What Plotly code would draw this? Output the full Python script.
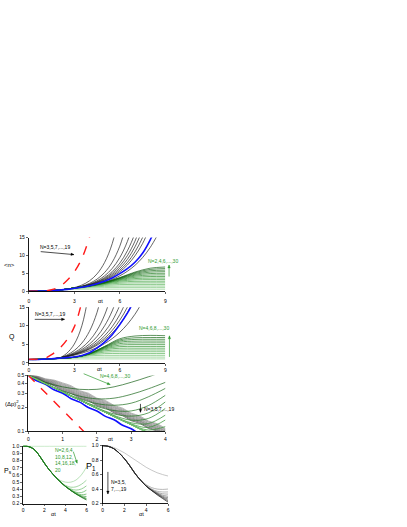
import math
import plotly.graph_objects as go

W, H = 407, 527
FONT = "Liberation Sans, Arial, sans-serif"

# ---------------- time grids ----------------
T_HALF = [0, 0.5, 1, 1.5, 2, 2.5, 3, 3.5, 4, 4.5, 5, 5.5, 6, 6.5, 7, 7.5, 8, 8.5, 9]
T_INT = [0, 1, 2, 3, 4, 5, 6, 7, 8, 9]
T_QUART = [0, 0.25, 0.5, 0.75, 1, 1.25, 1.5, 1.75, 2, 2.25, 2.5, 2.75, 3, 3.25, 3.5, 3.75, 4]
T_P = [0, 0.5, 1, 1.5, 2, 2.5, 3, 3.5, 4, 4.5, 5, 5.5, 6]

# ---------------- panel 1 : <n> ----------------
n_black = [
    [0, 0.014, 0.06, 0.15, 0.30, 0.56, 1.0, 1.71, 2.89, 4.84, 8.05, 13.3, 22.1],
    [0, 0.02, 0.07, 0.16, 0.31, 0.56, 0.9, 1.40, 2.17, 3.37, 5.23, 8.1, 12.6, 19.6],
    [0, 0.02, 0.07, 0.16, 0.31, 0.56, 0.9, 1.33, 1.97, 2.91, 4.30, 6.36, 9.4, 13.9, 20.5],
    [0, 0.02, 0.07, 0.16, 0.31, 0.56, 0.9, 1.29, 1.85, 2.66, 3.81, 5.47, 7.85, 11.3, 16.2, 23.2],
    [0, 0.02, 0.07, 0.16, 0.31, 0.56, 0.9, 1.27, 1.79, 2.52, 3.56, 5.01, 7.07, 9.96, 14.0, 19.8],
    [0, 0.02, 0.07, 0.16, 0.31, 0.56, 0.9, 1.25, 1.73, 2.40, 3.33, 4.63, 6.42, 8.9, 12.4, 17.1],
    [0, 0.02, 0.07, 0.16, 0.31, 0.56, 0.9, 1.23, 1.68, 2.30, 3.15, 4.30, 5.89, 8.0, 11.0, 15.0, 20.6],
    [0, 0.02, 0.07, 0.16, 0.31, 0.56, 0.9, 1.21, 1.64, 2.21, 2.98, 4.02, 5.43, 7.32, 9.9, 13.3, 18.0],
    [0, 0.02, 0.07, 0.16, 0.31, 0.56, 0.9, 1.17, 1.52, 1.97, 2.55, 3.31, 4.30, 5.58, 7.23, 9.39, 12.2, 15.8],
]
n_green = [
    [0, 0.07, 0.28, 0.51, 0.546, 0.55, 0.55, 0.55, 0.55, 0.55],
    [0, 0.07, 0.30, 0.72, 0.91, 0.99, 1.0, 1.0, 1.0, 1.0],
    [0, 0.07, 0.305, 0.80, 1.13, 1.36, 1.43, 1.44, 1.44, 1.44],
    [0, 0.07, 0.31, 0.84, 1.26, 1.65, 1.85, 1.89, 1.89, 1.89],
    [0, 0.07, 0.31, 0.86, 1.34, 1.86, 2.22, 2.32, 2.33, 2.33],
    [0, 0.07, 0.31, 0.87, 1.38, 2.01, 2.54, 2.75, 2.78, 2.78],
    [0, 0.07, 0.31, 0.88, 1.42, 2.13, 2.81, 3.16, 3.23, 3.23],
    [0, 0.07, 0.31, 0.88, 1.44, 2.21, 3.03, 3.53, 3.66, 3.67],
    [0, 0.07, 0.31, 0.89, 1.45, 2.27, 3.21, 3.88, 4.10, 4.12],
    [0, 0.07, 0.31, 0.89, 1.47, 2.31, 3.36, 4.20, 4.52, 4.56],
    [0, 0.07, 0.31, 0.89, 1.47, 2.35, 3.48, 4.48, 4.93, 5.01],
    [0, 0.07, 0.31, 0.90, 1.48, 2.38, 3.59, 4.73, 5.33, 5.46],
    [0, 0.07, 0.31, 0.90, 1.49, 2.40, 3.67, 4.96, 5.71, 5.89],
    [0, 0.07, 0.31, 0.90, 1.49, 2.42, 3.74, 5.17, 6.08, 6.33],
    [0, 0.07, 0.31, 0.90, 1.50, 2.44, 3.81, 5.35, 6.43, 6.77],
]
n_blue = [0, 0.02, 0.07, 0.16, 0.31, 0.5, 0.8, 1.1, 1.5, 2.1, 2.8, 3.7, 4.9, 6.3, 8.1, 10.6, 14.3, 19.0]
n_red = [0, 0.02, 0.08, 0.4, 1.2, 2.9, 5.4, 9.2, 15.1, 23.0]

# ---------------- panel 2 : Q ----------------
q_black = [
    [0.9, 0.9, 1.0, 1.1, 1.3, 2.57, 5.06, 10.0, 19.7],
    [0.9, 0.9, 1.0, 1.1, 1.3, 2.08, 3.33, 5.33, 8.5, 13.6, 21.8],
    [0.9, 0.9, 1.0, 1.1, 1.3, 1.9, 2.79, 4.09, 5.99, 8.78, 12.9, 18.9],
    [0.9, 0.9, 1.0, 1.1, 1.3, 1.82, 2.57, 3.6, 5.06, 7.1, 10.0, 14.0, 19.7],
    [0.9, 0.9, 1.0, 1.1, 1.3, 1.77, 2.41, 3.29, 4.48, 6.11, 8.33, 11.3, 15.5, 21.1],
    [0.9, 0.9, 1.0, 1.1, 1.3, 1.73, 2.31, 3.08, 4.11, 5.49, 7.32, 9.76, 13.0, 17.4],
    [0.9, 0.9, 1.0, 1.1, 1.3, 1.71, 2.24, 2.94, 3.86, 5.07, 6.65, 8.73, 11.5, 15.0, 19.7],
    [0.9, 0.9, 1.0, 1.1, 1.3, 1.69, 2.19, 2.84, 3.68, 4.77, 6.19, 8.02, 10.4, 13.5, 17.5],
    [0.9, 0.9, 1.0, 1.1, 1.3, 1.64, 2.06, 2.6, 3.27, 4.12, 5.19, 6.54, 8.24, 10.4, 13.1, 16.5],
]
q_green = [
    [0.9, 0.99, 1.06, 1.07, 1.07, 1.07, 1.07, 1.07, 1.07, 1.07],
    [0.9, 1.0, 1.18, 1.37, 1.54, 1.55, 1.55, 1.55, 1.55, 1.55],
    [0.9, 1.0, 1.19, 1.45, 1.90, 2.03, 2.03, 2.03, 2.03, 2.03],
    [0.9, 1.0, 1.20, 1.47, 2.12, 2.49, 2.51, 2.51, 2.51, 2.51],
    [0.9, 1.0, 1.20, 1.48, 2.25, 2.90, 2.99, 2.99, 2.99, 2.99],
    [0.9, 1.0, 1.20, 1.49, 2.32, 3.25, 3.46, 3.47, 3.47, 3.47],
    [0.9, 1.0, 1.20, 1.49, 2.37, 3.54, 3.93, 3.95, 3.95, 3.95],
    [0.9, 1.0, 1.20, 1.49, 2.40, 3.77, 4.37, 4.43, 4.43, 4.43],
    [0.9, 1.0, 1.20, 1.49, 2.42, 3.95, 4.79, 4.91, 4.91, 4.91],
    [0.9, 1.0, 1.20, 1.49, 2.44, 4.10, 5.19, 5.38, 5.39, 5.39],
    [0.9, 1.0, 1.20, 1.49, 2.45, 4.21, 5.56, 5.85, 5.87, 5.87],
    [0.9, 1.0, 1.20, 1.49, 2.46, 4.31, 5.89, 6.31, 6.35, 6.35],
    [0.9, 1.0, 1.20, 1.49, 2.47, 4.39, 6.19, 6.75, 6.82, 6.83],
    [0.9, 1.0, 1.20, 1.49, 2.48, 4.45, 6.49, 7.23, 7.40, 7.32],
]
q_blue = [0.9, 0.9, 1.0, 1.1, 1.25, 1.4, 1.6, 2.0, 2.7, 4.0, 5.6, 7.6, 10.3, 13.4, 17.2]
q_red = [1.0, 1.0, 1.15, 2.2, 3.8, 6.1, 9.7, 16.5, 27.0]

# ---------------- panel 3 : (Δp)^2 ----------------
dp_black = [
    [0.5, 0.464, 0.405, 0.371, 0.325, 0.299, 0.26, 0.242, 0.21, 0.196, 0.17, 0.157, 0.136, 0.126, 0.109, 0.101, 0.088],
    [0.5, 0.467, 0.411, 0.379, 0.335, 0.308, 0.268, 0.249, 0.216, 0.202, 0.175, 0.162, 0.140, 0.130, 0.112, 0.104, 0.091],
    [0.5, 0.471, 0.417, 0.388, 0.345, 0.317, 0.276, 0.257, 0.223, 0.208, 0.180, 0.166, 0.144, 0.134, 0.116, 0.107, 0.093],
    [0.5, 0.474, 0.423, 0.396, 0.354, 0.326, 0.283, 0.264, 0.229, 0.214, 0.185, 0.171, 0.148, 0.137, 0.119, 0.110, 0.096],
    [0.5, 0.478, 0.429, 0.404, 0.364, 0.335, 0.291, 0.271, 0.235, 0.220, 0.190, 0.176, 0.152, 0.141, 0.122, 0.113, 0.099],
    [0.5, 0.481, 0.435, 0.413, 0.374, 0.344, 0.299, 0.278, 0.242, 0.225, 0.196, 0.181, 0.156, 0.145, 0.125, 0.116, 0.101],
    [0.5, 0.485, 0.441, 0.421, 0.384, 0.353, 0.307, 0.286, 0.248, 0.231, 0.201, 0.185, 0.160, 0.149, 0.129, 0.119, 0.104],
    [0.5, 0.488, 0.448, 0.429, 0.393, 0.362, 0.315, 0.293, 0.254, 0.237, 0.206, 0.190, 0.165, 0.152, 0.132, 0.122, 0.106],
    [0.5, 0.492, 0.454, 0.437, 0.403, 0.371, 0.322, 0.300, 0.260, 0.243, 0.211, 0.195, 0.169, 0.156, 0.135, 0.125, 0.109],
]
dp_green = [
    [0.5, 0.41, 0.36, 0.335, 0.335, 0.36, 0.41, 0.48, 0.57],
    [0.5, 0.395, 0.32, 0.275, 0.255, 0.26, 0.29, 0.34, 0.41],
    [0.5, 0.395, 0.312, 0.255, 0.222, 0.212, 0.225, 0.27, 0.345],
    [0.5, 0.395, 0.311, 0.247, 0.205, 0.182, 0.18, 0.21, 0.283],
    [0.5, 0.395, 0.311, 0.246, 0.197, 0.165, 0.155, 0.17, 0.234],
    [0.5, 0.395, 0.311, 0.246, 0.195, 0.158, 0.138, 0.145, 0.194],
    [0.5, 0.395, 0.311, 0.246, 0.194, 0.155, 0.128, 0.125, 0.16],
    [0.5, 0.395, 0.311, 0.246, 0.194, 0.154, 0.124, 0.112, 0.139],
    [0.5, 0.395, 0.311, 0.246, 0.194, 0.153, 0.122, 0.104, 0.115],
    [0.5, 0.395, 0.311, 0.246, 0.194, 0.153, 0.121, 0.099, 0.1],
    [0.5, 0.395, 0.311, 0.246, 0.194, 0.153, 0.121, 0.097, 0.088],
    [0.5, 0.395, 0.311, 0.246, 0.194, 0.153, 0.121, 0.096, 0.082],
    [0.5, 0.395, 0.311, 0.246, 0.194, 0.153, 0.121, 0.0955, 0.078],
    [0.5, 0.395, 0.311, 0.246, 0.194, 0.153, 0.121, 0.0955, 0.075],
]
dp_blue = [0.5, 0.427, 0.387, 0.331, 0.30, 0.256, 0.232, 0.199, 0.18, 0.154, 0.14, 0.119, 0.108, 0.092, 0.084]
dp_red = [0.5, 0.303, 0.184, 0.112, 0.068]

# ---------------- panel 4 : P_s ----------------
ps_green = [
    [1, 1, 1, 1, 1, 1, 1, 1, 1, 1, 1, 1, 1],
    [1.0, 0.995, 0.96, 0.875, 0.765, 0.665, 0.58, 0.525, 0.5, 0.5, 0.53, 0.6, 0.715],
    [1.0, 0.995, 0.96, 0.875, 0.765, 0.665, 0.58, 0.505, 0.455, 0.43, 0.435, 0.47, 0.53],
    [1.0, 0.995, 0.96, 0.875, 0.765, 0.665, 0.58, 0.505, 0.445, 0.405, 0.39, 0.405, 0.45],
    [1.0, 0.995, 0.96, 0.875, 0.765, 0.665, 0.58, 0.505, 0.44, 0.395, 0.36, 0.355, 0.39],
    [1.0, 0.995, 0.96, 0.875, 0.765, 0.665, 0.58, 0.505, 0.44, 0.39, 0.35, 0.325, 0.335],
    [1.0, 0.995, 0.96, 0.875, 0.765, 0.665, 0.58, 0.505, 0.44, 0.385, 0.34, 0.31, 0.30],
    [1.0, 0.995, 0.96, 0.875, 0.765, 0.665, 0.58, 0.505, 0.44, 0.385, 0.338, 0.30, 0.275],
    [1.0, 0.995, 0.96, 0.875, 0.765, 0.665, 0.58, 0.505, 0.44, 0.385, 0.336, 0.295, 0.262],
    [1.0, 0.995, 0.96, 0.875, 0.765, 0.665, 0.58, 0.505, 0.44, 0.385, 0.335, 0.29, 0.25],
]
ps_colors = ["#a8dca8", "#9ad49a", "#7cc67c", "#6abd6a", "#5bb45b", "#4dab4d", "#3d9d3d", "#2f932f", "#237f23", "#1a6f1a"]

# ---------------- panel 5 : P_1 ----------------
p1_curves = [
    [1.0, 0.995, 0.975, 0.94, 0.9, 0.85, 0.8, 0.75, 0.7, 0.66, 0.625, 0.6, 0.58],
    [1.0, 0.99, 0.96, 0.9, 0.82, 0.72, 0.61, 0.52, 0.46, 0.42, 0.40, 0.395, 0.40],
    [1.0, 0.99, 0.96, 0.9, 0.82, 0.72, 0.61, 0.52, 0.45, 0.40, 0.37, 0.36, 0.36],
    [1.0, 0.99, 0.96, 0.9, 0.82, 0.72, 0.61, 0.52, 0.44, 0.395, 0.355, 0.335, 0.33],
    [1.0, 0.99, 0.96, 0.9, 0.82, 0.72, 0.61, 0.52, 0.44, 0.39, 0.345, 0.315, 0.30],
    [1.0, 0.99, 0.96, 0.9, 0.82, 0.72, 0.61, 0.52, 0.44, 0.385, 0.34, 0.30, 0.28],
    [1.0, 0.99, 0.96, 0.9, 0.82, 0.72, 0.61, 0.52, 0.44, 0.38, 0.335, 0.29, 0.26],
    [1.0, 0.99, 0.96, 0.9, 0.82, 0.72, 0.61, 0.52, 0.44, 0.38, 0.33, 0.28, 0.24],
    [1.0, 0.99, 0.96, 0.9, 0.82, 0.72, 0.61, 0.52, 0.44, 0.38, 0.32, 0.27, 0.22],
]
p1_colors = ["#b0b0b0", "#9a9a9a", "#9a9a9a", "#8a8a8a", "#7a7a7a", "#6a6a6a", "#555555", "#404040", "#111111"]

GREENS = ["#8fd08f", "#7cc67c", "#6abd6a", "#5bb45b", "#4dab4d", "#42a342", "#389b38",
          "#2f932f", "#2a8b2a", "#258325", "#217b21", "#1e741e", "#1b6d1b", "#186618", "#156015"]
DP_BLACK_COLORS = ["#222", "#333", "#444", "#555", "#666", "#666", "#777", "#777", "#888"]


def px(x, y):
    return x / W, 1 - y / H


fig = go.Figure()


def add(xs, ys, ax, color, width=0.7, dash="solid", shape="spline"):
    fig.add_trace(go.Scatter(
        x=xs[:len(ys)], y=ys, xaxis="x" + ("" if ax == 1 else str(ax)),
        yaxis="y" + ("" if ax == 1 else str(ax)), mode="lines",
        line=dict(color=color, width=width, dash=dash, shape=shape, smoothing=1.0),
        showlegend=False, hoverinfo="skip"))


# panel 1
for ys in n_black:
    add(T_HALF, ys, 1, "#222222", 0.7)
for i, ys in enumerate(n_green):
    add(T_INT, ys, 1, GREENS[i], 0.7)
add(T_HALF, n_blue, 1, "#1010ff", 1.6)
add(T_HALF, n_red, 1, "#ff1a1a", 1.4, "dash")

# panel 2
for ys in q_black:
    add(T_HALF, ys, 2, "#222222", 0.7)
for i, ys in enumerate(q_green):
    add(T_INT, ys, 2, GREENS[i], 0.7)
add(T_HALF, q_blue, 2, "#1010ff", 1.6)
add(T_HALF, q_red, 2, "#ff1a1a", 1.4, "dash")

# panel 3
for j, ys in enumerate(dp_black):
    add(T_QUART, ys, 3, DP_BLACK_COLORS[j], 0.6)
add(T_QUART, dp_blue, 3, "#1010ff", 1.6)
for i, ys in enumerate(dp_green):
    add(T_HALF, ys, 3, GREENS[::-1][i], 0.7)
add(T_HALF, dp_red, 3, "#ff1a1a", 1.4, "dash", "linear")

# panel 4
for i, ys in enumerate(ps_green):
    add(T_P, ys, 4, ps_colors[i], 0.7)

# panel 5
for i, ys in enumerate(p1_curves):
    add(T_P, ys, 5, p1_colors[i], 0.7)


# ---------------- axes ----------------
def xax(dom, rng, dtick, anchor, standoff=3, ticklen=2):
    return dict(domain=dom, range=rng, dtick=dtick, tick0=0, anchor=anchor,
                showline=True, linecolor="black", linewidth=0.9, mirror=False,
                ticks="outside", ticklen=ticklen, tickwidth=0.6, tickcolor="black",
                ticklabelstandoff=standoff,
                showgrid=False, zeroline=False,
                tickfont=dict(family=FONT, size=5, color="black"))


def yax(dom, rng, anchor, **kw):
    d = dict(domain=dom, range=rng, anchor=anchor,
             showline=True, linecolor="black", linewidth=0.9,
             ticks="outside", ticklen=2, tickwidth=0.6, tickcolor="black",
             showgrid=False, zeroline=False,
             tickfont=dict(family=FONT, size=5, color="black"))
    d.update(kw)
    return d


def xd(a, b):
    return [a / W, b / W]


def yd(top, bot):
    return [1 - bot / H, 1 - top / H]


layout = dict(
    width=W, height=H, margin=dict(l=0, r=0, t=0, b=0),
    paper_bgcolor="white", plot_bgcolor="white", hovermode=False,
    xaxis=xax(xd(28, 165.5), [0, 9], 3, "y", 3),
    yaxis=yax(yd(237.3, 291.5), [0, 15], "x", dtick=5, tick0=0),
    xaxis2=xax(xd(28, 165.5), [0, 9], 3, "y2", 0),
    yaxis2=yax(yd(307.7, 364), [0, 15], "x2", dtick=5, tick0=0),
    xaxis3=xax(xd(27.5, 165.7), [0, 4], 1, "y3", 1),
    yaxis3=yax(yd(376.7, 433.3), [-1, -0.30103], "x3", type="log",
               tickvals=[0.1, 0.2, 0.3, 0.4, 0.5], ticktext=["0.1", "0.2", "0.3", "0.4", "0.5"]),
    xaxis4=xax(xd(22.3, 86.3), [0, 6], 2, "y4", 0, 1.5),
    yaxis4=yax(yd(447.7, 506.5), [0.2, 1.008], "x4", dtick=0.1, tick0=0, tickformat=".1f"),
    xaxis5=xax(xd(102.3, 168.3), [0, 6], 2, "y5", 0, 1.5),
    yaxis5=yax(yd(447.1, 506.3), [0.2, 1.008], "x5", dtick=0.2, tick0=0, tickformat=".1f"),
)
fig.update_layout(**layout)

GREEN_TXT = "#2e9a2e"
ann = []
shapes = []


def text(x, y, s, size=5, color="black", xanchor="center", align="center"):
    X, Y = px(x, y)
    ann.append(dict(x=X, y=Y, xref="paper", yref="paper", text=s, showarrow=False,
                    xanchor=xanchor, yanchor="middle", align=align, borderpad=0,
                    font=dict(family=FONT, size=size, color=color)))


def arrow(hx, hy, tx, ty, color="black"):
    # shaft
    x0, y0 = px(tx, ty)
    x1, y1 = px(hx, hy)
    shapes.append(dict(type="line", xref="paper", yref="paper", x0=x0, y0=y0, x1=x1, y1=y1,
                       line=dict(color=color, width=0.7)))
    # head (small filled triangle)
    dx, dy = hx - tx, hy - ty
    L = math.hypot(dx, dy)
    ux, uy = dx / L, dy / L
    nx, ny = -uy, ux
    hl, hw = 3.0, 1.3
    bx, by = hx - hl * ux, hy - hl * uy
    pts = [(hx, hy), (bx + hw * nx, by + hw * ny), (bx - hw * nx, by - hw * ny)]
    path = "M " + " L ".join("%.5f,%.5f" % px(a, b) for a, b in pts) + " Z"
    shapes.append(dict(type="path", xref="paper", yref="paper", path=path,
                       fillcolor=color, line=dict(color=color, width=0.3)))


# axis titles
text(9, 265, "&lt;n&gt;", 6)
text(100, 301, "αt", 5.5)
text(11.5, 338, "Q", 7)
text(99, 370.5, "αt", 5.5)
text(11, 405, "(Δp)<sup>2</sup>", 6)
text(110, 441, "αt", 5.5)
text(7.5, 473, "P<sub>s</sub>", 7)
text(53, 516.5, "αt", 5.5)
text(91, 469, "P<sub>1</sub>", 9)
text(141.7, 516.5, "αt", 5.5)

# series annotations
text(54.5, 247.3, "N=3,5,7,...,19", 5)
arrow(73.5, 254.5, 40, 251.5)
text(163.5, 260.7, "N=2,4,6,...,30", 5, GREEN_TXT)
arrow(169.3, 265, 169.3, 276.7, GREEN_TXT)

text(49.3, 315, "N=3,5,7,...,19", 5)
arrow(64, 320, 34, 320)
text(154, 328.3, "N=4,6,8,...,30", 5, GREEN_TXT)
arrow(169.7, 336.7, 169.7, 358, GREEN_TXT)

text(115, 377.5, "N=4,6,8,...,30", 5, GREEN_TXT)
arrow(110, 386, 83.3, 375, GREEN_TXT)
text(143.5, 410.7, "N=3,5,7,...,19", 5, "black", "left")
arrow(140.5, 414, 140.5, 405.5)

text(53, 462.2, "N=2,6,4,<br>10,8,12,<br>14,16,18,<br>20", 5, GREEN_TXT, "left", "left")
arrow(76.7, 465.5, 73, 454.3, GREEN_TXT)
text(109.5, 488, "N=3,5,<br>7,...,19", 5, "black", "left", "left")
arrow(107.7, 496.7, 107.7, 474.3)

fig.update_layout(annotations=ann, shapes=shapes)
fig.write_html("out.html", config={"displayModeBar": False, "staticPlot": True},
               post_script="document.body.style.margin='0';document.body.style.overflow='hidden';")
